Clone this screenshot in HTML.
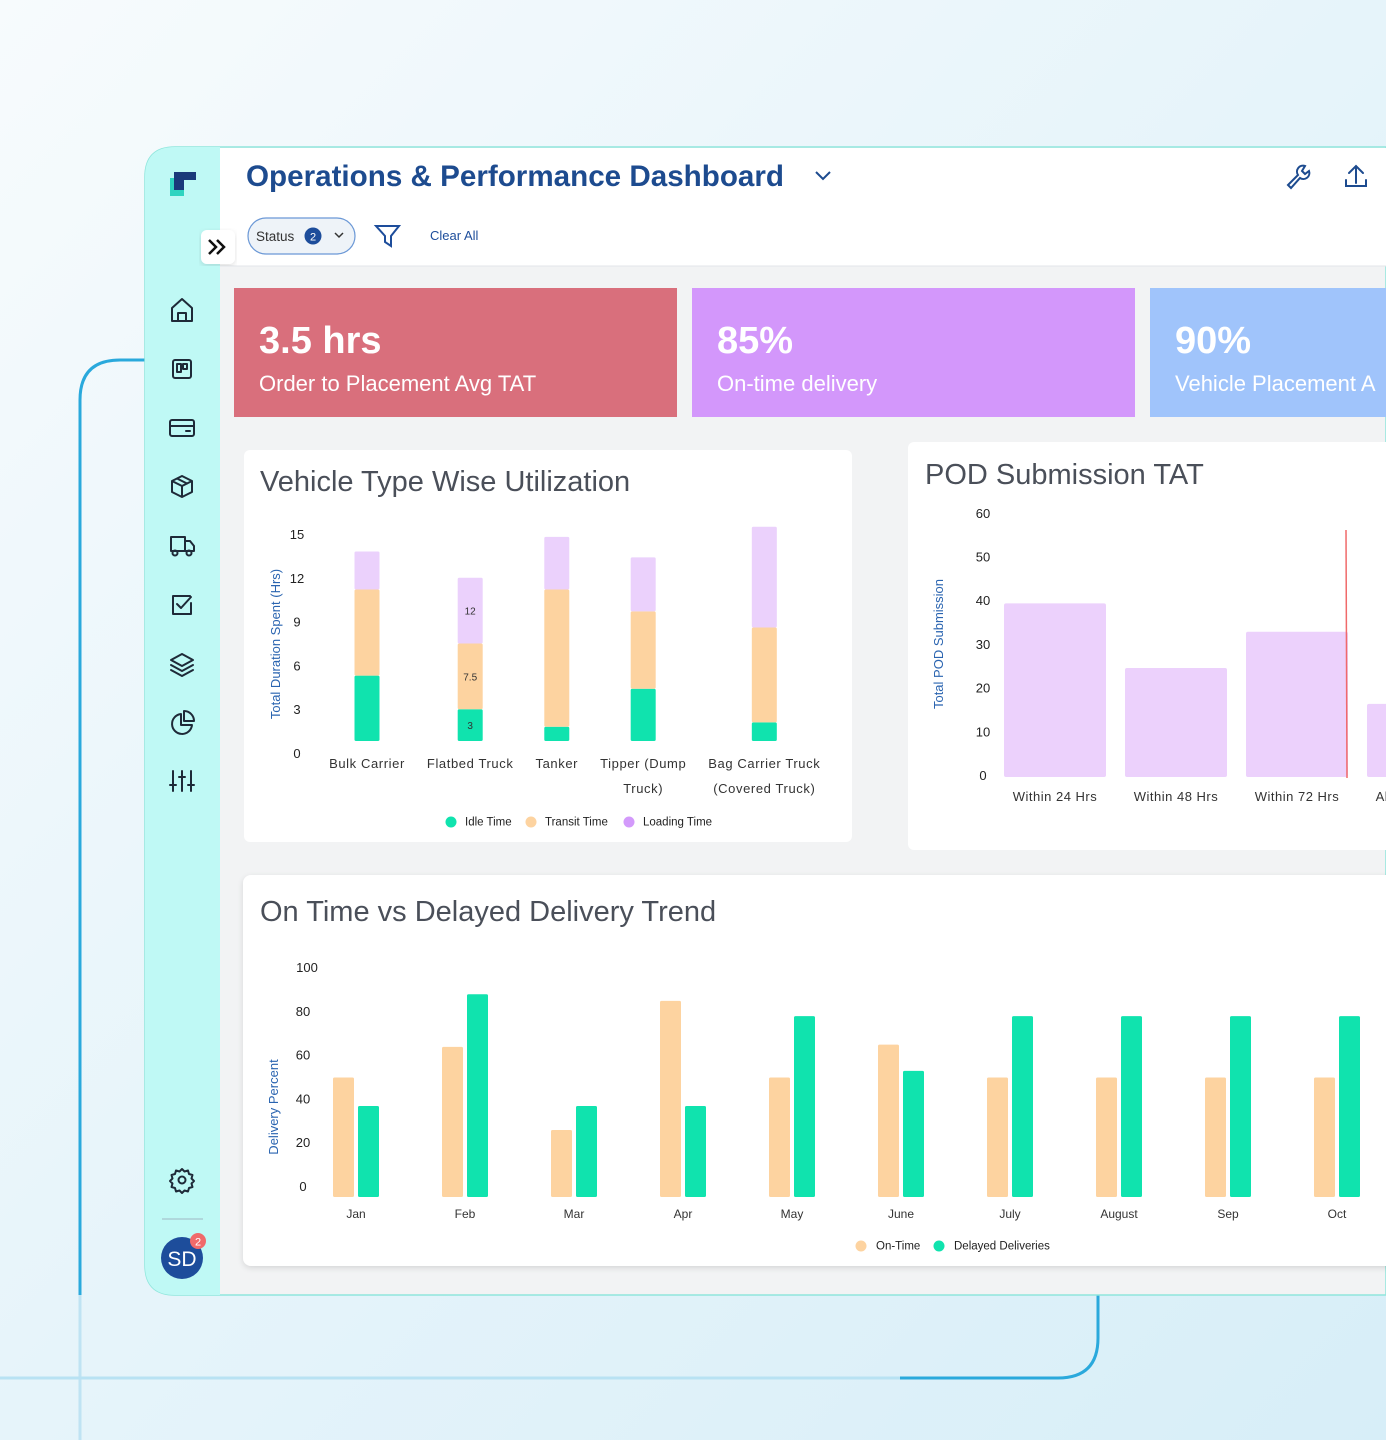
<!DOCTYPE html>
<html><head><meta charset="utf-8">
<style>
html,body{margin:0;padding:0;width:1386px;height:1440px;overflow:hidden;font-family:"Liberation Sans",sans-serif;}
svg text{font-family:"Liberation Sans",sans-serif;}
</style></head>
<body>
<svg id="root" width="1386" height="1440" viewBox="0 0 1386 1440" xmlns="http://www.w3.org/2000/svg">
<defs>
<linearGradient id="bg" x1="0" y1="0" x2="1" y2="1">
<stop offset="0" stop-color="#f7fbfd"/><stop offset="0.5" stop-color="#e6f4fa"/><stop offset="1" stop-color="#d7eef8"/>
</linearGradient>
<filter id="sh" x="-5%" y="-5%" width="110%" height="110%"><feDropShadow dx="0" dy="2" stdDeviation="3" flood-color="#000" flood-opacity="0.12"/></filter>
</defs>
<rect width="1386" height="1440" fill="url(#bg)"/>
<path d="M80 1440 V1290" fill="none" stroke="#bfe3f3" stroke-width="3"/>
<path d="M80 1295 V400 Q80 360 120 360 H145" fill="none" stroke="#2aa9dc" stroke-width="3"/>
<path d="M0 1378 H900" fill="none" stroke="#b8e2f3" stroke-width="3"/>
<path d="M900 1378 H1058 Q1098 1378 1098 1338 V1295" fill="none" stroke="#2aa9dc" stroke-width="3"/>
<g>
<path d="M175 147 H1386 V1295 H175 Q145 1295 145 1265 V177 Q145 147 175 147 Z" fill="#f2f3f4" stroke="#8fe6dc" stroke-width="1.5"/>
<path d="M175 147 H220 V1295 H175 Q145 1295 145 1265 V177 Q145 147 175 147 Z" fill="#bff9f5"/>
<rect x="220" y="148" width="1166" height="118" fill="#fff"/>
<line x1="220" y1="266" x2="1386" y2="266" stroke="#e3e6ea"/>
</g>
<g>
<rect x="170" y="178" width="14" height="18" fill="#2fd4c0"/>
<rect x="174" y="172" width="22" height="8" fill="#1a3a7a"/>
<rect x="174" y="172" width="10" height="18" fill="#1a3a7a"/>
</g>
<g>
<rect x="201" y="230" width="34" height="34" rx="6" fill="#fff" filter="url(#sh)"/>
<path d="M209 240 l7 7 -7 7 M217 240 l7 7 -7 7" stroke="#111" stroke-width="2.5" fill="none"/>
</g>
<g stroke="#1e2a38" stroke-width="2" fill="none" stroke-linejoin="round" stroke-linecap="round">
<path d="M172 321 V308 L182 299 L192 308 V321 Z M178 321 V313 H186 V321"/>
<g><rect x="173" y="360" width="18" height="18" rx="2"/><rect x="177" y="364" width="4" height="8"/><rect x="183" y="364" width="4" height="5"/></g>
<g><rect x="170" y="420" width="24" height="16" rx="2"/><line x1="170" y1="426" x2="194" y2="426"/><line x1="186" y1="431" x2="190" y2="431"/></g>
<g><path d="M182 476 L192 481 V492 L182 497 L172 492 V481 Z M172 481 L182 486 L192 481 M182 486 V497 M177 478.5 L187 483.5"/></g>
<g><path d="M171 537 H185 V551 H171 Z M185 541 H190 L194 546 V551 H185"/><circle cx="175" cy="553" r="2.5"/><circle cx="189" cy="553" r="2.5"/></g>
<g><path d="M190 596 H173 V614 H191 V603 M177 604 L181 608 L191 597"/></g>
<g><path d="M182 654 L193 660 L182 666 L171 660 Z M171 665 L182 671 L193 665 M171 670 L182 676 L193 670"/></g>
<g><path d="M181 714 A10 10 0 1 0 192 725 H181 Z M184 711 A10 10 0 0 1 194 721 H184 Z"/></g>
<g><path d="M173 771 V791 M182 771 V791 M191 771 V791 M170 785 H176 M179 777 H185 M188 785 H194"/></g>
<g><circle cx="182" cy="1180" r="3.5"/><path d="M182 1169 l2.5 2.5 3.5 -1 1 3.5 3.5 1 -1 3.5 2.5 2.5 -2.5 2.5 1 3.5 -3.5 1 -1 3.5 -3.5 -1 -2.5 2.5 -2.5 -2.5 -3.5 1 -1 -3.5 -3.5 -1 1 -3.5 -2.5 -2.5 2.5 -2.5 -1 -3.5 3.5 -1 1 -3.5 3.5 1 Z"/></g>
</g>
<line x1="162" y1="1219" x2="203" y2="1219" stroke="#9fb7c2" stroke-width="1"/>
<g>
<circle cx="182" cy="1258" r="21" fill="#1d4d9b"/>
<text x="182" y="1266" text-anchor="middle" font-size="21" fill="#fff">SD</text>
<circle cx="198" cy="1241" r="8" fill="#f06a6a"/>
<text x="198" y="1245.5" text-anchor="middle" font-size="11" fill="#fff">2</text>
</g>
<text x="246" y="186" font-size="30" font-weight="bold" fill="#1d4b8f" textLength="538" lengthAdjust="spacingAndGlyphs">Operations &amp; Performance Dashboard</text>
<path d="M816 172 l7 7 7 -7" stroke="#1d4b8f" stroke-width="2" fill="none"/>
<g stroke="#1d4b8f" stroke-width="2" fill="none" stroke-linecap="round">
<path d="M1288 185 L1298 175 A6 6 0 0 1 1305 166 L1302 171 L1305 174 L1309 171 A6 6 0 0 1 1300 178 L1291 188 Z"/>
<path d="M1356 166 V183 M1349 173 L1356 166 L1363 173 M1346 180 V186 H1366 V180"/>
</g>
<g>
<rect x="248" y="218" width="107" height="36" rx="18" fill="#eef3f8" stroke="#6b98d6" stroke-width="1.2"/>
<text x="256" y="241" font-size="13.5" fill="#333">Status</text>
<circle cx="313" cy="236" r="8.5" fill="#1d4d9b"/><text x="313" y="240.5" text-anchor="middle" font-size="11" fill="#fff">2</text>
<path d="M335 233 l4 4 4 -4" stroke="#333" stroke-width="1.5" fill="none"/>
</g>
<path d="M376 226 H399 L391 236 V246 L385 242 V236 Z" stroke="#1d4d9b" stroke-width="2" fill="none"/>
<text x="430" y="240" font-size="13" fill="#1d4d9b">Clear All</text>
<g>
<rect x="234" y="288" width="443" height="129" fill="#d96f7c"/>
<text x="259" y="353" font-size="38" font-weight="bold" fill="#fff">3.5 hrs</text>
<text x="259" y="391" font-size="22" fill="#fff">Order to Placement Avg TAT</text>
</g>
<g>
<rect x="692" y="288" width="443" height="129" fill="#d397fb"/>
<text x="717" y="353" font-size="38" font-weight="bold" fill="#fff">85%</text>
<text x="717" y="391" font-size="22" fill="#fff">On-time delivery</text>
</g>
<g>
<rect x="1150" y="288" width="240" height="129" fill="#a0c4fb"/>
<text x="1175" y="353" font-size="38" font-weight="bold" fill="#fff">90%</text>
<text x="1175" y="391" font-size="22" fill="#fff">Vehicle Placement A</text>
</g>
<rect x="244" y="450" width="608" height="392" rx="6" fill="#fff"/>
<rect x="908" y="442" width="490" height="408" rx="6" fill="#fff"/>
<rect x="243" y="875" width="1160" height="391" rx="8" fill="#fff" filter="url(#sh)"/>
<text x="260" y="491" font-size="29" fill="#4a4f59">Vehicle Type Wise Utilization</text>
<text x="925" y="484" font-size="29" fill="#4a4f59">POD Submission TAT</text>
<text x="260" y="921" font-size="29" fill="#4a4f59">On Time vs Delayed Delivery Trend</text>
<g id="vchart"></g><g id="pchart"></g><g id="dchart"></g>
</svg>
<script>
const vCategories = [["Bulk Carrier"],["Flatbed Truck"],["Tanker"],["Tipper (Dump","Truck)"],["Bag Carrier Truck","(Covered Truck)"]];
const vIdle = [5.3, 3, 1.8, 4.4, 2.1];
const vTransit = [5.9, 4.5, 9.4, 5.3, 6.5];
const vLoading = [2.6, 4.5, 3.6, 3.7, 6.9];
const vTicks = [0,3,6,9,12,15];
const pCategories = ["Within 24 Hrs","Within 48 Hrs","Within 72 Hrs","Above 72 Hrs"];
const pValues = [39.5, 24.7, 33, 16.5];
const pTicks = [0,10,20,30,40,50,60];
const dMonths = ["Jan","Feb","Mar","Apr","May","June","July","August","Sep","Oct"];
const dOnTime = [50, 64, 26, 85, 50, 65, 50, 50, 50, 50];
const dDelayed = [37, 88, 37, 37, 78, 53, 78, 78, 78, 78];
const dTicks = [0,20,40,60,80,100];

const NS="http://www.w3.org/2000/svg";
function mk(parent,tag,attrs,txt){const e=document.createElementNS(NS,tag);for(const k in attrs)e.setAttribute(k,attrs[k]);if(txt!==undefined)e.textContent=txt;parent.appendChild(e);return e;}

(function(){
  const g=document.getElementById('vchart');
  const y=v=>753-v*14.6;
  vTicks.forEach(t=>{const e=mk(g,'text',{x:297,y:y(t)+5,'font-size':13,fill:'#222','text-anchor':'middle'},t);
    
    });
  const yt=mk(g,'text',{x:0,y:0,'font-size':13,fill:'#2a64b0','text-anchor':'middle',transform:'translate(280,644) rotate(-90)'},'Total Duration Spent (Hrs)');
  
  
  const LS='0.6';
  const widths=vCategories.map(c=>{let w=0;c.forEach(ln=>{const t=mk(g,'text',{x:0,y:-100,'font-size':13,'letter-spacing':LS},ln);w=Math.max(w,t.getComputedTextLength());g.removeChild(t);});return w;});
  const centers=[];let cx=367;
  widths.forEach((w,i)=>{if(i>0)cx+=(widths[i-1]+w)/2+22;centers.push(cx);});
  const x=i=>centers[i];
  const cols=['#10e3ae','#fdd3a0','#ebd1fc'];
  vCategories.forEach((c,i)=>{
    const segs=[vIdle[i],vTransit[i],vLoading[i]];
    let cum=0;
    segs.forEach((s,k)=>{
      const top=y(cum+s), bot=k===0?741:y(cum);
      const r=mk(g,'rect',{x:x(i)-12.5,y:top,width:25,height:Math.max(0,bot-top),fill:cols[k],rx:1.5});
      
      
      cum+=s;
      if(i===1){const lt=mk(g,'text',{x:x(i),y:(top+bot)/2+4,'font-size':10,fill:'#333','text-anchor':'middle'},String(Math.round(cum*10)/10));
        
        }
    });
    c.forEach((ln,j)=>{const t=mk(g,'text',{x:x(i),y:768+j*25,'font-size':13,'letter-spacing':LS,fill:'#333','text-anchor':'middle'},ln);
      
      });
  });
  const leg=[['Idle Time','#10e3ae',451],['Transit Time','#fdd3a0',531],['Loading Time','#d39afb',629]];
  leg.forEach(l=>{const c=mk(g,'circle',{cx:l[2],cy:822,r:5.5,fill:l[1]});
    
    
    const t=mk(g,'text',{x:l[2]+14,y:825.5,'font-size':11.5,fill:'#222'},l[0]);
    
    });
})();

(function(){
  const g=document.getElementById('pchart');
  const y=v=>776-v*4.37;
  const x=i=>1055+i*121;
  pTicks.forEach(t=>{const e=mk(g,'text',{x:983,y:y(t)+4,'font-size':13,fill:'#222','text-anchor':'middle'},t);
    
    });
  const yt=mk(g,'text',{x:0,y:0,'font-size':13,fill:'#2a64b0','text-anchor':'middle',transform:'translate(943,644) rotate(-90)'},'Total POD Submission');
  
  
  pCategories.forEach((c,i)=>{
    const r=mk(g,'rect',{x:x(i)-51,y:y(pValues[i]),width:102,height:776-y(pValues[i])+1,fill:'#ecd1fc',rx:2});
    
    
    const t=mk(g,'text',{x:x(i),y:801,'font-size':13,'letter-spacing':'0.5',fill:'#333','text-anchor':'middle'},c);
    
    
  });
  const ln=mk(g,'line',{x1:1346,y1:530,x2:1347,y2:778,stroke:'#f06a6a','stroke-width':1.5});
  
  
})();

(function(){
  const g=document.getElementById('dchart');
  const y=v=>1187-v*2.19;
  const x=i=>356+i*109;
  dTicks.forEach(t=>{const e=mk(g,'text',{x:t===100?307:303,y:y(t)+4,'font-size':13,fill:'#222','text-anchor':'middle'},t);
    
    });
  const yt=mk(g,'text',{x:0,y:0,'font-size':13,fill:'#2a64b0','text-anchor':'middle',transform:'translate(278,1107) rotate(-90)'},'Delivery Percent');
  
  
  dMonths.forEach((m,i)=>{
    const a=mk(g,'rect',{x:x(i)-23,y:y(dOnTime[i]),width:21,height:1197-y(dOnTime[i]),fill:'#fdd3a0',rx:1.5});
    
    
    const b=mk(g,'rect',{x:x(i)+2,y:y(dDelayed[i]),width:21,height:1197-y(dDelayed[i]),fill:'#10e3ae',rx:1.5});
    
    
    const t=mk(g,'text',{x:x(i),y:1218,'font-size':12,fill:'#333','text-anchor':'middle'},m);
    
    
  });
  const leg=[['On-Time','#fdd3a0',861],['Delayed Deliveries','#10e3ae',939]];
  leg.forEach(l=>{const c=mk(g,'circle',{cx:l[2],cy:1246,r:5.5,fill:l[1]});
    
    
    const t=mk(g,'text',{x:l[2]+15,y:1249.5,'font-size':11.5,fill:'#222'},l[0]);
    
    });
})();
</script>
</body></html>
